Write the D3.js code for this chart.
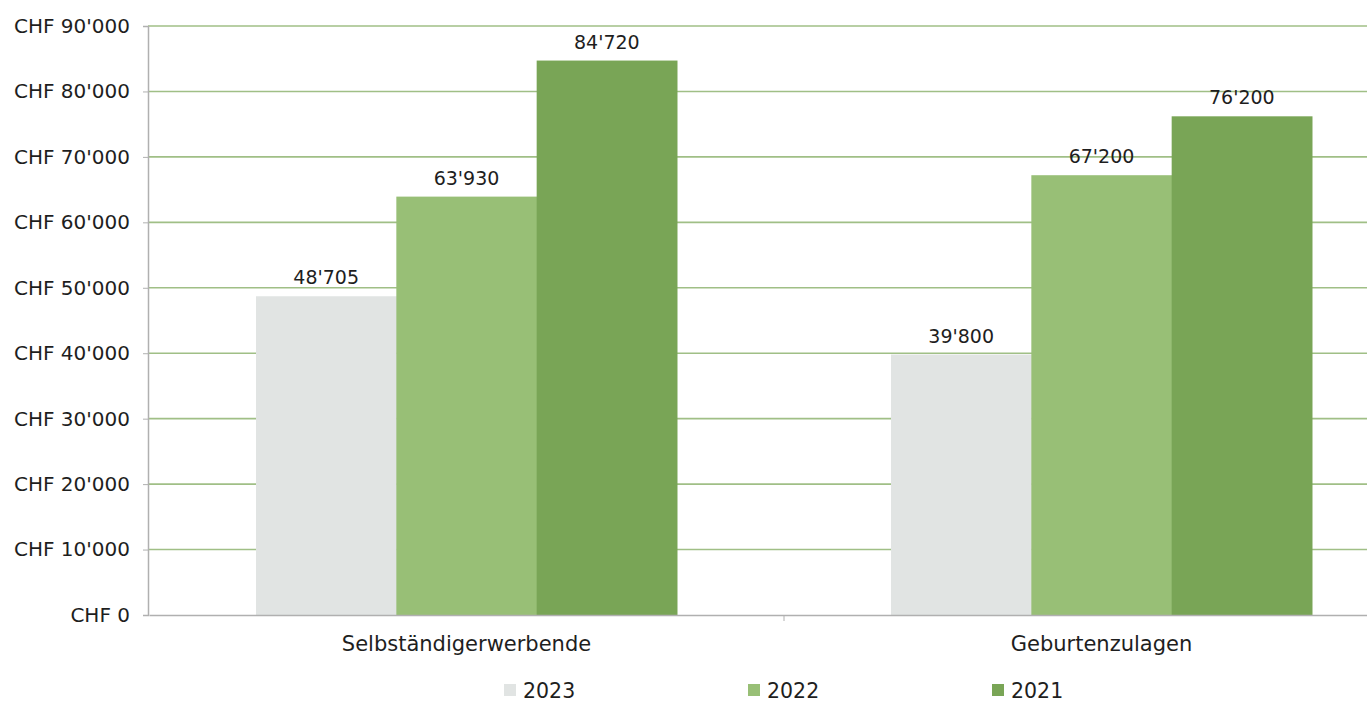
<!DOCTYPE html>
<html><head><meta charset="utf-8">
<script src="https://cdn.jsdelivr.net/npm/d3@7"></script>
<style>
html,body{margin:0;padding:0;background:#fff;overflow:hidden}
svg{display:block;font-family:"DejaVu Sans",sans-serif}
</style></head>
<body>
<script>
const categories = ["Selbständigerwerbende", "Geburtenzulagen"];
const seriesNames = ["2023", "2022", "2021"];
const values2023 = [48705, 39800];
const values2022 = [63930, 67200];
const values2021 = [84720, 76200];
const yTicks = [0, 10000, 20000, 30000, 40000, 50000, 60000, 70000, 80000, 90000];
const colors = ["#e1e4e3", "#98bf76", "#79a556"];

const seriesValues = [values2023, values2022, values2021];
const W = 1367, H = 704;
const svg = d3.select("body").append("svg").attr("width", W).attr("height", H);

const fmt = v => d3.format(",")(v).replace(/,/g, "'");

const x0 = d3.scaleBand().domain(categories).range([149, 1419]).paddingInner(0).paddingOuter(0);
const x1 = d3.scaleBand().domain(seriesNames).range([0, x0.bandwidth()]).paddingInner(0).paddingOuter(0.7625);
const y = d3.scaleLinear().domain([0, 90000]).range([615, 26]);

// gridlines
svg.append("g").selectAll("line").data(yTicks.filter(t => t > 0)).join("line")
  .attr("x1", 148).attr("x2", W).attr("y1", d => y(d)).attr("y2", d => y(d))
  .attr("stroke", "#a0bf86").attr("stroke-width", 1.6);

// y axis
const yAxis = d3.axisLeft(y).tickValues(yTicks).tickSize(5).tickPadding(13).tickFormat(d => "CHF " + fmt(d));
const gy = svg.append("g").attr("transform", "translate(148,0)").call(yAxis);
gy.select(".domain").attr("stroke", "#b0b0b0").attr("stroke-width", 1.5);
gy.selectAll(".tick line").attr("stroke", "#b0b0b0");
gy.selectAll(".tick text").attr("font-size", 20).attr("fill", "#1e1e1e").attr("font-family", "DejaVu Sans");

// bars
const groups = svg.append("g").selectAll("g").data(categories).join("g")
  .attr("transform", d => `translate(${x0(d)},0)`);
groups.selectAll("rect").data((c, ci) => seriesNames.map((s, si) => ({s, si, v: seriesValues[si][ci]}))).join("rect")
  .attr("x", d => x1(d.s)).attr("width", x1.bandwidth() + 0.5)
  .attr("y", d => y(d.v)).attr("height", d => y(0) - y(d.v))
  .attr("fill", d => colors[d.si]);

// data labels
groups.selectAll("text").data((c, ci) => seriesNames.map((s, si) => ({s, si, v: seriesValues[si][ci]}))).join("text")
  .attr("x", d => x1(d.s) + x1.bandwidth() / 2).attr("y", d => y(d.v) - 12)
  .attr("text-anchor", "middle").attr("font-size", 19).attr("fill", "#1e1e1e")
  .text(d => fmt(d.v));

// x axis
const xAxis = d3.axisBottom(x0).tickSize(0).tickPadding(21);
const gx = svg.append("g").attr("transform", "translate(0,615)").call(xAxis);
gx.select(".domain").attr("stroke", "#b0b0b0").attr("stroke-width", 1.5);
gx.selectAll(".tick text").attr("font-size", 21).attr("fill", "#1e1e1e").attr("font-family", "DejaVu Sans");
// category separator ticks
svg.append("g").selectAll("line").data(categories.slice(1)).join("line")
  .attr("x1", d => x0(d)).attr("x2", d => x0(d)).attr("y1", 615).attr("y2", 621)
  .attr("stroke", "#b0b0b0").attr("stroke-width", 1);

// legend
const legend = svg.append("g").selectAll("g").data(seriesNames).join("g")
  .attr("transform", (d, i) => `translate(${504 + i * 244},684)`);
legend.append("rect").attr("width", 12).attr("height", 12).attr("fill", (d, i) => colors[i]);
legend.append("text").attr("x", 19).attr("y", 14).attr("font-size", 20.5).attr("fill", "#1e1e1e").text(d => d);
</script>
</body></html>
